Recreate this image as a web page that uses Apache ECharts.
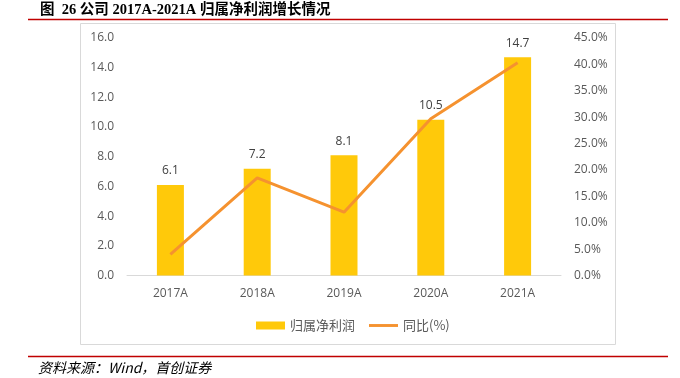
<!DOCTYPE html>
<html><head><meta charset="utf-8">
<script src="https://cdn.jsdelivr.net/npm/echarts@6/dist/echarts.min.js"></script>
<style>html,body{margin:0;padding:0;background:#fff}#c{width:680px;height:378px}</style>
</head><body><div id="c"></div>
<script>
const categories = ['2017A','2018A','2019A','2020A','2021A'];
const profit = [6.1, 7.2, 8.1, 10.5, 14.7];
const growth = [4.0, 18.5, 12.0, 29.7, 40.3];
const leftTicks = {min:0, max:16, interval:2};
const rightTicks = {min:0, max:45, interval:5};
const titleText = '图  26 公司 2017A-2021A 归属净利润增长情况';
const sourceText = '资料来源：Wind，首创证券';

const chart = echarts.init(document.getElementById('c'), null, {renderer:'canvas'});
const lab = {color:'#595959', fontSize:12, fontFamily:'"Open Sans","Noto Sans CJK SC",sans-serif'};
chart.setOption({
  animation:false,
  graphic:[
    {type:'text', left:40, top:3, style:{text:titleText, fontSize:14.5, fontWeight:'bold', fill:'#000', fontFamily:'"Liberation Serif","Noto Sans CJK SC",serif'}},
    {type:'line', shape:{x1:28,y1:19.5,x2:668,y2:19.5}, style:{stroke:'#C00000', lineWidth:1.5}},
    {type:'rect', shape:{x:80.5,y:23.5,width:535,height:321}, style:{fill:'none', stroke:'#D9D9D9', lineWidth:1}},
    {type:'line', shape:{x1:28,y1:356.5,x2:668,y2:356.5}, style:{stroke:'#C00000', lineWidth:1.5}},
    {type:'text', left:38, top:361, style:{text:sourceText, fontSize:14, fontStyle:'italic', fill:'#000', fontFamily:'"Noto Sans CJK SC",sans-serif'}}
  ],
  grid:{left:127, right:119, top:38, bottom:102.5},
  legend:{
    left:251, top:314, itemGap:14, itemWidth:29, itemHeight:8,
    textStyle:{color:'#595959', fontSize:13, fontFamily:'"Noto Sans CJK SC",sans-serif'},
    data:[{name:'归属净利润', icon:'rect'},{name:'同比(%)', icon:'path://M0,0L100,0L100,10L0,10Z'}]
  },
  xAxis:{
    type:'category', data:categories,
    axisLine:{lineStyle:{color:'#D9D9D9'}}, axisTick:{show:false},
    axisLabel:Object.assign({margin:12}, lab)
  },
  yAxis:[
    {type:'value', min:leftTicks.min, max:leftTicks.max, interval:leftTicks.interval,
     axisLabel:Object.assign({formatter:v=>v.toFixed(1), margin:13}, lab),
     splitLine:{show:false}, axisLine:{show:false}, axisTick:{show:false}},
    {type:'value', min:rightTicks.min, max:rightTicks.max, interval:rightTicks.interval,
     axisLabel:Object.assign({formatter:v=>v.toFixed(1)+'%', margin:13}, lab),
     splitLine:{show:false}, axisLine:{show:false}, axisTick:{show:false}}
  ],
  series:[
    {name:'归属净利润', type:'bar', data:profit, barWidth:27, yAxisIndex:0,
     itemStyle:{color:'#FFC90A'},
     label:{show:true, position:'top', distance:8, formatter:p=>p.value.toFixed(1), color:'#404040', fontSize:12, fontFamily:lab.fontFamily}},
    {name:'同比(%)', type:'line', data:growth, yAxisIndex:1, symbol:'none',
     lineStyle:{color:'#F5922F', width:3}, itemStyle:{color:'#F5922F'}}
  ]
});
</script></body></html>
